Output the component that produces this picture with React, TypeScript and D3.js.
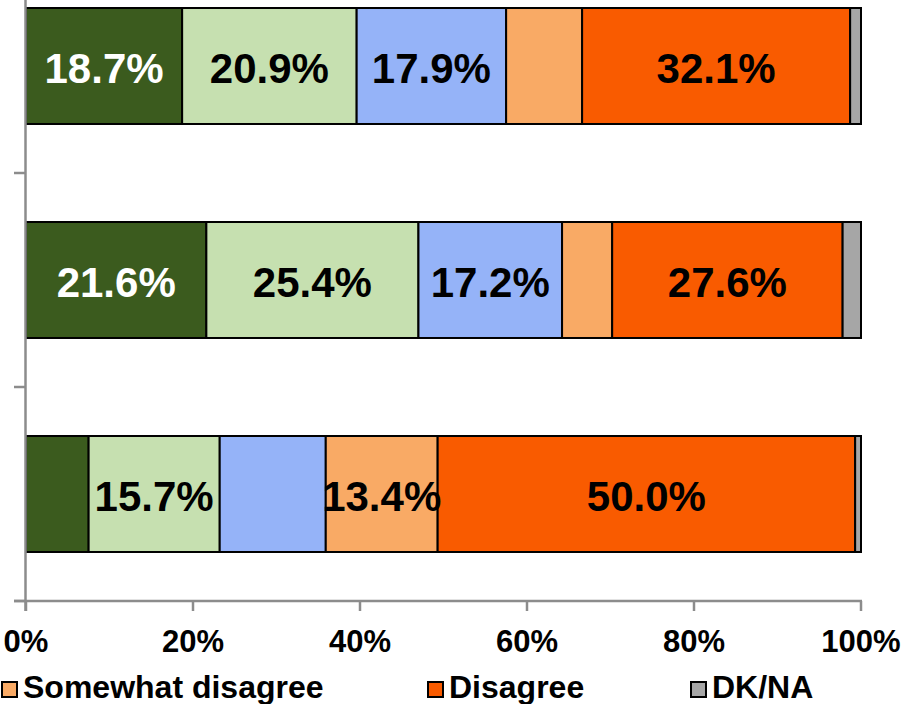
import React from "react";
import * as d3 from "d3";

// Response categories (stack order, left to right)
const seriesNames = [
  "Agree",
  "Somewhat agree",
  "Neutral",
  "Somewhat disagree",
  "Disagree",
  "DK/NA",
];
const seriesColors = ["#3B5B1E", "#C6E0B0", "#95B3F8", "#F9AA65", "#F95B00", "#A6A6A6"];
const labelColors = ["#FFFFFF", "#000000", "#000000", "#000000", "#000000", "#000000"];

// Survey items, top to bottom
const categories = ["Item 1", "Item 2", "Item 3"];

// Share of responses per item (%), one array per category
const item1 = [18.7, 20.9, 17.9, 9.1, 32.1, 1.3];
const item2 = [21.6, 25.4, 17.2, 6.0, 27.6, 2.2];
const item3 = [7.5, 15.7, 12.7, 13.4, 50.0, 0.7];
const values = [item1, item2, item3];

const xTicks = [0, 20, 40, 60, 80, 100];
const legendItems = ["Somewhat disagree", "Disagree", "DK/NA"];

// Only segments at least this wide get a value label
const labelThreshold = 13;

const W = 908;
const H = 704;
const FONT = "Liberation Sans, Arial, sans-serif";

export default function App() {
  const x = d3.scaleLinear().domain([0, 100]).range([26, 861]);
  const y = d3
    .scaleBand<string>()
    .domain(categories)
    .range([-41, 601])
    .paddingInner(0.458)
    .paddingOuter(0.229);

  const axisColor = "#8C8C8C";
  const axisY = 601;
  const axisX = 25.5;

  // category boundary ticks on the category axis
  const step = y.step();
  const yTickPositions = categories.map((_, i) => axisY - step * i);

  const rows = categories.map((c, ci) => {
    const stacked = d3.cumsum(values[ci]);
    return values[ci].map((v, si) => ({
      cat: c,
      si,
      v,
      x0: stacked[si] - v,
      x1: stacked[si],
    }));
  });

  const legendFont = 32;
  const legendStarts = [1, 427, 690];

  return (
    <svg
      width={W}
      height={H}
      style={{ position: "absolute", left: 0, top: 0, background: "#fff" }}
      fontFamily={FONT}
    >
      {/* stacked bars */}
      {rows.map((segs) =>
        segs.map((s) => (
          <rect
            key={`${s.cat}-${s.si}`}
            x={x(s.x0)}
            y={y(s.cat)!}
            width={x(s.x1) - x(s.x0)}
            height={y.bandwidth()}
            fill={seriesColors[s.si]}
            stroke="#000"
            strokeWidth={2}
          />
        ))
      )}

      {/* value labels */}
      {rows.map((segs) =>
        segs
          .filter((s) => s.v >= labelThreshold)
          .map((s) => (
            <text
              key={`l-${s.cat}-${s.si}`}
              x={(x(s.x0) + x(s.x1)) / 2}
              y={y(s.cat)! + y.bandwidth() / 2 + 16.5}
              textAnchor="middle"
              fontSize={42}
              fontWeight="bold"
              fill={labelColors[s.si]}
            >
              {s.v.toFixed(1)}%
            </text>
          ))
      )}

      {/* category axis */}
      <line x1={axisX} x2={axisX} y1={0} y2={611} stroke={axisColor} strokeWidth={2.5} />
      {yTickPositions.map((ty, i) => (
        <line key={`yt-${i}`} x1={14} x2={axisX} y1={ty} y2={ty} stroke={axisColor} strokeWidth={2.5} />
      ))}

      {/* value axis */}
      <line x1={14} x2={x(100) + 1} y1={axisY} y2={axisY} stroke={axisColor} strokeWidth={2.5} />
      {xTicks.map((t) => (
        <g key={`xt-${t}`}>
          <line x1={x(t)} x2={x(t)} y1={axisY} y2={611} stroke={axisColor} strokeWidth={2.5} />
          <text
            x={x(t)}
            y={652}
            textAnchor="middle"
            fontSize={31}
            fontWeight="bold"
            fill="#000"
          >
            {t}%
          </text>
        </g>
      ))}

      {/* legend */}
      {legendItems.map((name, i) => {
        const si = seriesNames.indexOf(name);
        const lx = legendStarts[i];
        return (
          <g key={`lg-${name}`}>
            <rect
              x={lx + 1}
              y={682}
              width={15}
              height={15}
              fill={seriesColors[si]}
              stroke="#000"
              strokeWidth={2}
            />
            <text x={lx + 22} y={698} fontSize={legendFont} fontWeight="bold" fill="#000">
              {name}
            </text>
          </g>
        );
      })}
    </svg>
  );
}
